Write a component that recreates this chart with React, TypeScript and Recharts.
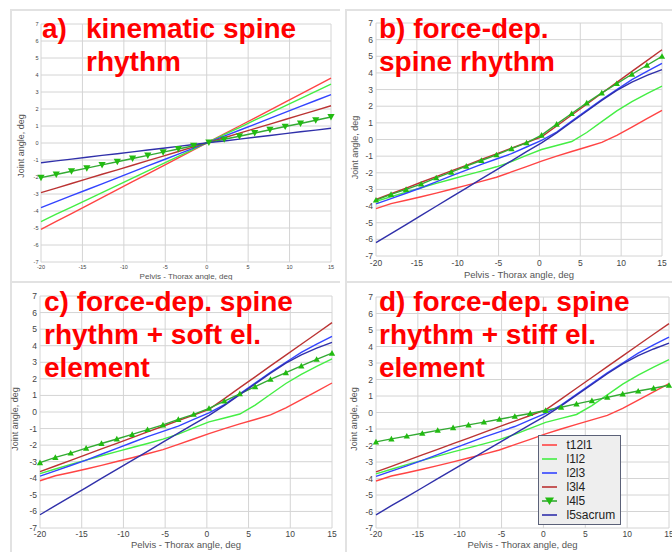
import React from "react";
import { LineChart, Line, XAxis, YAxis, CartesianGrid, Legend } from "recharts";

// pelvis - thorax angle samples (deg)
const xValues = [
  -20, -18.16, -16.32, -14.47, -12.63, -10.79, -8.95, -7.11, -5.26, -3.42,
  -1.58, 0.26, 2.11, 3.95, 5.79, 7.63, 9.47, 11.32, 13.16, 15,
];
const xTicks = [-20, -15, -10, -5, 0, 5, 10, 15];
const yTicks = [-7, -6, -5, -4, -3, -2, -1, 0, 1, 2, 3, 4, 5, 6, 7];

// a) kinematic spine rhythm
const kinT12l1 = [-5.08, -4.61, -4.15, -3.68, -3.21, -2.74, -2.27, -1.81, -1.34, -0.87, -0.4, 0.07, 0.54, 1.0, 1.47, 1.94, 2.41, 2.88, 3.34, 3.81];
const kinL1l2 = [-4.62, -4.19, -3.77, -3.34, -2.92, -2.49, -2.07, -1.64, -1.22, -0.79, -0.36, 0.06, 0.49, 0.91, 1.34, 1.76, 2.19, 2.61, 3.04, 3.47];
const kinL2l3 = [-3.8, -3.45, -3.1, -2.75, -2.4, -2.05, -1.7, -1.35, -1.0, -0.65, -0.3, 0.05, 0.4, 0.75, 1.1, 1.45, 1.8, 2.15, 2.5, 2.85];
const kinL3l4 = [-2.92, -2.65, -2.38, -2.11, -1.84, -1.58, -1.31, -1.04, -0.77, -0.5, -0.23, 0.04, 0.31, 0.58, 0.85, 1.11, 1.38, 1.65, 1.92, 2.19];
const kinL4l5 = [-2.04, -1.85, -1.66, -1.48, -1.29, -1.1, -0.91, -0.73, -0.54, -0.35, -0.16, 0.03, 0.22, 0.4, 0.59, 0.78, 0.97, 1.15, 1.34, 1.53];
const kinL5sacrum = [-1.16, -1.05, -0.95, -0.84, -0.73, -0.63, -0.52, -0.41, -0.31, -0.2, -0.09, 0.02, 0.12, 0.23, 0.34, 0.44, 0.55, 0.66, 0.76, 0.87];

// b-d) force-dependent spine rhythm (shared levels)
const forceT12l1 = [-4.15, -3.85, -3.65, -3.44, -3.22, -2.99, -2.76, -2.52, -2.27, -1.95, -1.63, -1.3, -1.0, -0.72, -0.45, -0.17, 0.25, 0.75, 1.25, 1.75];
const forceL1l2 = [-3.72, -3.44, -3.16, -2.9, -2.64, -2.39, -2.14, -1.9, -1.64, -1.33, -0.96, -0.6, -0.36, -0.12, 0.42, 1.07, 1.72, 2.27, 2.75, 3.2];
const forceL2l3 = [-3.87, -3.55, -3.23, -2.9, -2.55, -2.19, -1.84, -1.49, -1.17, -0.85, -0.45, -0.05, 0.45, 1.1, 1.75, 2.4, 3.0, 3.6, 4.1, 4.57];
const forceL3l4 = [-3.6, -3.26, -2.92, -2.57, -2.23, -1.89, -1.55, -1.2, -0.86, -0.52, -0.18, 0.16, 0.81, 1.47, 2.12, 2.78, 3.43, 4.09, 4.74, 5.39];
const forceL5sacrum = [-6.2, -5.65, -5.11, -4.56, -4.01, -3.46, -2.92, -2.37, -1.82, -1.28, -0.73, -0.2, 0.4, 1.05, 1.7, 2.35, 2.95, 3.45, 3.85, 4.2];

const l4l5B = [-3.64, -3.3, -3.0, -2.68, -2.3, -1.96, -1.6, -1.26, -0.92, -0.55, -0.2, 0.26, 0.92, 1.56, 2.2, 2.8, 3.36, 3.92, 4.46, 5.0];
const l4l5C = [-3.06, -2.74, -2.48, -2.18, -1.9, -1.63, -1.35, -1.06, -0.78, -0.45, -0.14, 0.22, 0.66, 1.1, 1.53, 1.97, 2.37, 2.78, 3.18, 3.55];
const l4l5D = [-1.78, -1.6, -1.43, -1.26, -1.08, -0.92, -0.75, -0.58, -0.41, -0.23, -0.06, 0.12, 0.32, 0.52, 0.72, 0.92, 1.12, 1.3, 1.47, 1.65];

const seriesKeys = ["t12l1", "l1l2", "l2l3", "l3l4", "l4l5", "l5sacrum"];
const colors: Record<string, string> = {
  t12l1: "#ff4444",
  l1l2: "#44ee44",
  l2l3: "#3344ff",
  l3l4: "#bb3333",
  l4l5: "#33aa33",
  l5sacrum: "#3030aa",
};
const markerColor = "#22bb11";
const FONT = "'Liberation Sans', Arial, sans-serif";

const buildRows = (cols: number[][]) =>
  xValues.map((x, i) => {
    const row: Record<string, number> = { x };
    seriesKeys.forEach((k, j) => (row[k] = cols[j][i]));
    return row;
  });

const dataA = buildRows([kinT12l1, kinL1l2, kinL2l3, kinL3l4, kinL4l5, kinL5sacrum]);
const dataB = buildRows([forceT12l1, forceL1l2, forceL2l3, forceL3l4, l4l5B, forceL5sacrum]);
const dataC = buildRows([forceT12l1, forceL1l2, forceL2l3, forceL3l4, l4l5C, forceL5sacrum]);
const dataD = buildRows([forceT12l1, forceL1l2, forceL2l3, forceL3l4, l4l5D, forceL5sacrum]);

const triangle = (down: boolean, w: number) => (props: any) => {
  const { cx, cy, index } = props;
  const h = w * 0.45;
  const d = down
    ? `M${cx - h},${cy - h * 0.8}L${cx + h},${cy - h * 0.8}L${cx},${cy + h}Z`
    : `M${cx - h},${cy + h * 0.8}L${cx + h},${cy + h * 0.8}L${cx},${cy - h}Z`;
  return <path key={`m${index}`} d={d} fill={markerColor} />;
};

// keep the legend in series order (recharts sorts by name otherwise)
const renderLegend = (props: any) => {
  const items = [...(props.payload || [])].sort(
    (a: any, b: any) => seriesKeys.indexOf(a.value) - seriesKeys.indexOf(b.value)
  );
  return (
    <div
      style={{
        boxSizing: "border-box",
        width: 83,
        background: "#eeeeee",
        border: "1.5px solid #5b6178",
        padding: "2px 4px 2px 2.5px",
        fontFamily: FONT,
        fontSize: 12,
        color: "#222",
      }}
    >
      {items.map((entry: any) => (
        <div key={entry.value} style={{ display: "flex", alignItems: "center", height: 14 }}>
          <svg width={15} height={14}>
            <line x1={0} y1={7} x2={15} y2={7} stroke={colors[entry.value]} strokeWidth={1.6} />
            {entry.value === "l4l5" && <path d="M3,3.5L12,3.5L7.5,11Z" fill={markerColor} />}
          </svg>
          <span style={{ marginLeft: 10, lineHeight: "14px" }}>{entry.value}</span>
        </div>
      ))}
    </div>
  );
};

interface PanelProps {
  data: Record<string, number>[];
  left: number;
  top: number;
  width: number;
  height: number;
  margin: { top: number; right: number; left: number; bottom: number };
  yAxisWidth: number;
  xAxisHeight: number;
  tickFont: number;
  xTickMargin: number;
  yTickMargin: number;
  xTitleFont: number;
  xTitleOffset: number;
  yTitleX: number;
  yTitleY: number;
  markerDown: boolean;
  markerWidth: number;
  showLegend?: boolean;
}

const Panel = (p: PanelProps) => {
  const yTitle = (lp: any) => (
    <text
      x={p.yTitleX}
      y={p.yTitleY}
      transform={`rotate(-90 ${p.yTitleX} ${p.yTitleY})`}
      textAnchor="middle"
      dominantBaseline="central"
      fontSize={9}
      fill="#555"
    >
      {lp.value}
    </text>
  );
  return (
    <div style={{ position: "absolute", left: p.left, top: p.top }}>
      <LineChart
        width={p.width}
        height={p.height}
        data={p.data}
        margin={p.margin}
        style={{ fontFamily: FONT }}
      >
        <CartesianGrid stroke="#d4d4d4" />
        <XAxis
          type="number"
          dataKey="x"
          domain={[-20, 15]}
          ticks={xTicks}
          interval={0}
          height={p.xAxisHeight}
          axisLine={false}
          tickLine={false}
          tickSize={0}
          tickMargin={p.xTickMargin}
          tick={{ fontSize: p.tickFont, fill: "#444" }}
          label={{
            value: "Pelvis - Thorax angle, deg",
            position: "insideBottom",
            offset: p.xTitleOffset,
            fontSize: p.xTitleFont,
            fill: "#555",
          }}
        />
        <YAxis
          type="number"
          domain={[-7, 7]}
          ticks={yTicks}
          interval={0}
          width={p.yAxisWidth}
          axisLine={false}
          tickLine={false}
          tickSize={0}
          tickMargin={p.yTickMargin}
          tick={{ fontSize: p.tickFont, fill: "#444" }}
          label={{ value: "Joint angle, deg", content: yTitle }}
        />
        {seriesKeys.map((k) => (
          <Line
            key={k}
            type="linear"
            dataKey={k}
            name={k}
            stroke={colors[k]}
            strokeWidth={1.4}
            dot={k === "l4l5" ? triangle(p.markerDown, p.markerWidth) : false}
            activeDot={false}
            isAnimationActive={false}
          />
        ))}
        {p.showLegend && (
          <Legend
            layout="vertical"
            align="center"
            verticalAlign="middle"
            content={renderLegend}
            wrapperStyle={{ left: 192, top: 153, width: 83, height: 88 }}
          />
        )}
      </LineChart>
    </div>
  );
};

const titleStyle: React.CSSProperties = {
  position: "absolute",
  fontFamily: FONT,
  fontWeight: "bold",
  fontSize: 28,
  lineHeight: "33.4px",
  color: "#ff0000",
  whiteSpace: "pre",
};

const frame = (left: number, top: number, width: number): React.CSSProperties => ({
  position: "absolute",
  left,
  top,
  width,
  height: 552 - top,
  borderTop: "2px solid #e2e2e2",
  borderLeft: "2px solid #e2e2e2",
  boxSizing: "border-box",
});

export default function App() {
  return (
    <div
      style={{
        position: "absolute",
        left: 0,
        top: 0,
        width: 672,
        height: 552,
        background: "#fff",
        overflow: "hidden",
      }}
    >
      <div style={frame(10, 9, 330)} />
      <div style={frame(345, 9, 327)} />
      <div style={frame(10, 281, 330)} />
      <div style={frame(345, 281, 327)} />

      <Panel
        data={dataA}
        left={10}
        top={10}
        width={330}
        height={270}
        margin={{ top: 14, right: 9, left: 0, bottom: 0 }}
        yAxisWidth={31}
        xAxisHeight={18}
        tickFont={5.5}
        xTickMargin={2.8}
        yTickMargin={2.5}
        xTitleFont={8}
        xTitleOffset={1}
        yTitleX={10.7}
        yTitleY={136}
        markerDown={true}
        markerWidth={8}
      />
      <Panel
        data={dataB}
        left={346}
        top={10}
        width={326}
        height={270}
        margin={{ top: 13, right: 10, left: 0, bottom: 0 }}
        yAxisWidth={30}
        xAxisHeight={24}
        tickFont={8.5}
        xTickMargin={4}
        yTickMargin={3}
        xTitleFont={9.5}
        xTitleOffset={1.6}
        yTitleX={8.7}
        yTitleY={137.5}
        markerDown={false}
        markerWidth={7}
      />
      <Panel
        data={dataC}
        left={10}
        top={282}
        width={330}
        height={270}
        margin={{ top: 14, right: 8, left: 0, bottom: 0 }}
        yAxisWidth={30}
        xAxisHeight={24}
        tickFont={8.5}
        xTickMargin={3}
        yTickMargin={3}
        xTitleFont={9.5}
        xTitleOffset={3.6}
        yTitleX={5}
        yTitleY={137}
        markerDown={false}
        markerWidth={7}
      />
      <Panel
        data={dataD}
        left={346}
        top={282}
        width={326}
        height={270}
        margin={{ top: 15, right: 3, left: 0, bottom: 0 }}
        yAxisWidth={30}
        xAxisHeight={24}
        tickFont={8.5}
        xTickMargin={3}
        yTickMargin={3}
        xTitleFont={9.5}
        xTitleOffset={3.6}
        yTitleX={8}
        yTitleY={137}
        markerDown={false}
        markerWidth={7}
        showLegend
      />

      <div style={{ ...titleStyle, left: 42, top: 11.6 }}>a)</div>
      <div style={{ ...titleStyle, left: 86, top: 11.6 }}>{"kinematic spine\nrhythm"}</div>
      <div style={{ ...titleStyle, left: 379, top: 11.6 }}>{"b) force-dep.\nspine rhythm"}</div>
      <div style={{ ...titleStyle, left: 44, top: 284.6 }}>
        {"c) force-dep. spine\nrhythm + soft el.\nelement"}
      </div>
      <div style={{ ...titleStyle, left: 379, top: 284.6 }}>
        {"d) force-dep. spine\nrhythm + stiff el.\nelement"}
      </div>
    </div>
  );
}
